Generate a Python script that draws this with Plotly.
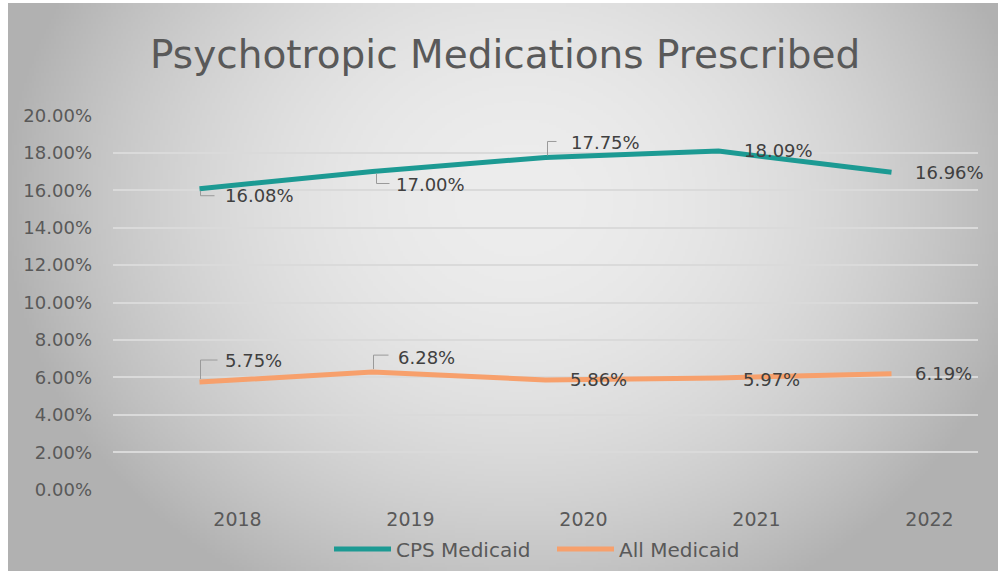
import base64
import struct
import zlib

import numpy as np
import plotly.graph_objects as go

# ---- data -------------------------------------------------------------
years = ["2018", "2019", "2020", "2021", "2022"]
cps_medicaid = [16.08, 17.00, 17.75, 18.09, 16.96]
all_medicaid = [5.75, 6.28, 5.86, 5.97, 6.19]
series_names = ["CPS Medicaid", "All Medicaid"]
title_text = "Psychotropic Medications Prescribed"

# label offsets (pixels, +y downward) from each point
cps_offsets = [(60, 7), (58, 13), (60, -15), (60, -1), (58, 0)]
all_offsets = [(54, -22), (54, -15), (53, 0), (53, 2), (52, 0)]
# leader-line paths (pixels relative to the point, +y upward); None = no leader
cps_leaders = ["M1,-2 L1,-7 L15,-7", "M4,-2 L4,-12 L17,-12",
               "M2,2 L2,16 L11,16", None, None]
all_leaders = ["M1,3 L1,22 L18,22", "M1,3 L1,17 L16,17", None, None, None]

TEAL = "#1c9a93"
ORANGE = "#f7a06c"
FONT = "DejaVu Sans"

W, H = 998, 571
# plot box in pixels
PX0, PX1, PY0, PY1 = 113, 978, 115, 490


def fx(px):
    return px / W


def fy(py):
    return 1 - py / H


# ---- radial grey backdrop as a small PNG --------------------------------
def gradient_png(w, h):
    ys, xs = np.mgrid[0:h, 0:w].astype(float)
    px = 8 + xs / (w - 1) * 990
    py = 3 + ys / (h - 1) * 568
    t = np.sqrt(((px - 520) / 520) ** 2 + ((py - 200) / 450) ** 2)
    t = np.clip(t, 0, 1.0)
    val = np.clip(237 - 60 * t ** 2, 0, 255).astype(np.uint8)
    raw = b"".join(b"\x00" + val[r].tobytes() for r in range(h))

    def chunk(tag, data):
        c = struct.pack(">I", len(data)) + tag + data
        return c + struct.pack(">I", zlib.crc32(tag + data) & 0xFFFFFFFF)

    png = b"\x89PNG\r\n\x1a\n"
    png += chunk(b"IHDR", struct.pack(">IIBBBBB", w, h, 8, 0, 0, 0, 0))
    png += chunk(b"IDAT", zlib.compress(raw, 9))
    png += chunk(b"IEND", b"")
    return "data:image/png;base64," + base64.b64encode(png).decode()


bg_src = gradient_png(400, 230)

fig = go.Figure()

fig.add_trace(go.Scatter(
    x=years, y=cps_medicaid, name=series_names[0], mode="lines",
    line=dict(color=TEAL, width=5), hoverinfo="skip",
))
fig.add_trace(go.Scatter(
    x=years, y=all_medicaid, name=series_names[1], mode="lines",
    line=dict(color=ORANGE, width=5), hoverinfo="skip",
))

annotations = []
shapes = []
for vals, offs, leaders in ((cps_medicaid, cps_offsets, cps_leaders),
                            (all_medicaid, all_offsets, all_leaders)):
    for i, (v, (ax, ay), lead) in enumerate(zip(vals, offs, leaders)):
        annotations.append(dict(
            x=i, y=v, xref="x", yref="y",
            text=f"{v:.2f}%", showarrow=True,
            ax=ax, ay=ay, arrowcolor="rgba(0,0,0,0)",
            font=dict(family=FONT, size=18, color="#404040"),
        ))
        if lead:
            shapes.append(dict(
                type="path", xref="x", yref="y",
                xsizemode="pixel", ysizemode="pixel",
                xanchor=i, yanchor=v, path=lead,
                line=dict(color="#9a9a9a", width=1),
            ))

# chart title
annotations.append(dict(
    text=title_text, xref="paper", yref="paper",
    x=fx(505), y=fy(55), xanchor="center", yanchor="middle",
    showarrow=False,
    font=dict(family=FONT, size=39, color="#595959"),
))

fig.update_layout(
    width=W, height=H,
    margin=dict(l=0, r=0, t=0, b=0, pad=0, autoexpand=False),
    paper_bgcolor="white",
    plot_bgcolor="rgba(0,0,0,0)",
    showlegend=True,
    legend=dict(
        orientation="h", x=fx(329), xanchor="left",
        y=fy(549), yanchor="middle",
        font=dict(family=FONT, size=20, color="#595959"),
        bgcolor="rgba(0,0,0,0)", itemwidth=57,
        entrywidth=151, entrywidthmode="pixels",
    ),
    xaxis=dict(
        domain=[fx(PX0), fx(PX1)],
        type="category", range=[-0.5, 4.5], showgrid=False, zeroline=False,
        showline=False, ticks="", ticklabelshift=38, ticklabelstandoff=16,
        tickfont=dict(family=FONT, size=19, color="#595959"),
    ),
    yaxis=dict(
        domain=[fy(PY1), fy(PY0)],
        range=[-0.02, 20.02], tickmode="linear", tick0=0, dtick=2,
        tickformat=".2f", ticksuffix="%",
        showgrid=True, gridcolor="#dadada", gridwidth=2,
        zeroline=False, showline=False, ticks="", ticklabelstandoff=20,
        tickfont=dict(family=FONT, size=18, color="#595959"),
    ),
    annotations=annotations,
    shapes=shapes,
    images=[dict(
        source=bg_src, xref="paper", yref="paper",
        x=fx(8), y=fy(3), sizex=990 / W, sizey=568 / H,
        xanchor="left", yanchor="top", sizing="stretch",
        layer="below",
    )],
)

fig.write_html("out.html")
